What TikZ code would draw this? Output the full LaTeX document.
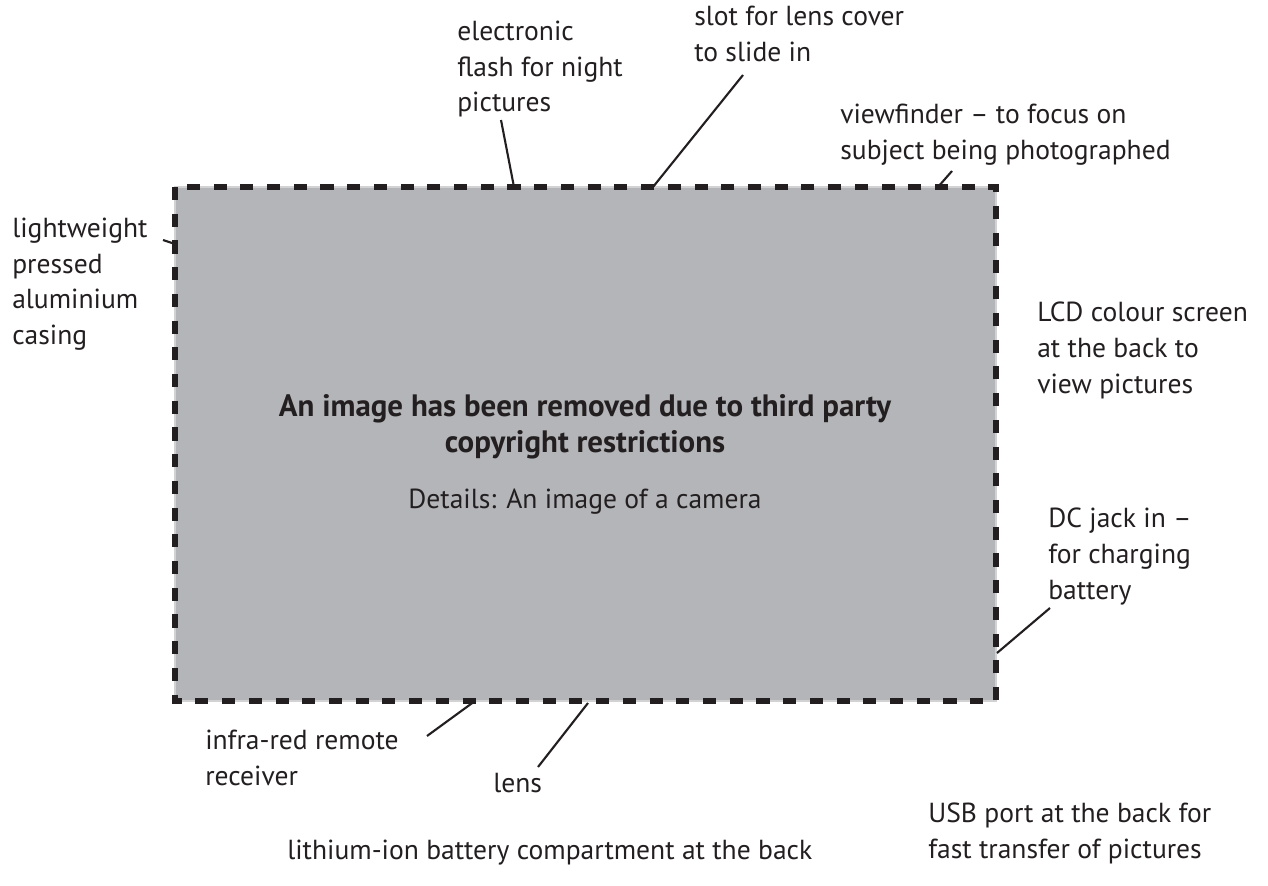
\documentclass[tikz,border=0pt]{standalone}
\usepackage{fontspec}
\setmainfont{PT Sans}
\usepackage{tikz}
\usetikzlibrary{positioning}
\definecolor{ink}{HTML}{231F20}
\definecolor{panel}{HTML}{B4B5B9}
\tikzset{
    callout/.style={anchor=north west, align=left, inner sep=0pt, text=ink,
        font=\fontsize{19.6}{25.3}\selectfont},
    notice/.style={anchor=north, align=center, inner sep=0pt, text=ink,
        font=\fontsize{19.6}{25.3}\selectfont},
    pointer/.style={draw=ink, line width=1.5pt},
    casing/.style={draw=ink, line width=3.6pt, dash pattern=on 9.3pt off 9.7pt},
}

\begin{document}
\begin{tikzpicture}[x=0.025cm, y=-0.025cm]
	\useasboundingbox (0,0) rectangle (1268,886);
	\coordinate (tl) at (175,187);
	\coordinate (br) at (996,701);
	\fill[panel, draw=gray!35, line width=1pt] (tl) rectangle (br);
	\draw[casing] (tl) rectangle (br);
	\node[notice, font=\fontsize{22}{25.6}\selectfont\bfseries] (removed) at (585,394) {An image has been removed due to third party\\copyright restrictions};
	\node[notice] (details) at (585,489) {Details: An image of a camera};

	\node[callout] (flash) at (457,21) {electronic\\flash for night\\pictures};
	\node[callout] (slot) at (694,6) {slot for lens cover\\to slide in};
	\node[callout] (finder) at (840,104) {viewfinder -- to focus on\\subject being photographed};
	\node[callout] (shell) at (12,218) {lightweight\\pressed\\aluminium\\casing};
	\node[callout] (lcd) at (1037,302) {LCD colour screen\\at the back to\\view pictures};
	\node[callout] (dcjack) at (1048,508) {DC jack in --\\for charging\\battery};
	\node[callout] (infra) at (205,730) {infra-red remote\\receiver};
	\node[callout] (lens) at (493,773) {lens};
	\node[callout] (usb) at (928,803) {USB port at the back for\\fast transfer of pictures};
	\node[callout] (battery) at (287,840) {lithium-ion battery compartment at the back};

	\coordinate (flash-a) at (501,120);  \coordinate (flash-b) at (514,187);
	\coordinate (slot-a) at (743,75);    \coordinate (slot-b) at (653,187);
	\coordinate (finder-a) at (952,171); \coordinate (finder-b) at (938,187);
	\coordinate (shell-a) at (163,240);  \coordinate (shell-b) at (175,244);
	\coordinate (dcjack-a) at (1050,608); \coordinate (dcjack-b) at (997,653);
	\coordinate (infra-a) at (427,736);  \coordinate (infra-b) at (475,701);
	\coordinate (lens-a) at (538,767);   \coordinate (lens-b) at (588,703);
	\foreach \p in {flash,slot,finder,shell,dcjack,infra,lens}
		\draw[pointer] (\p-a) -- (\p-b);
\end{tikzpicture}
\end{document}
